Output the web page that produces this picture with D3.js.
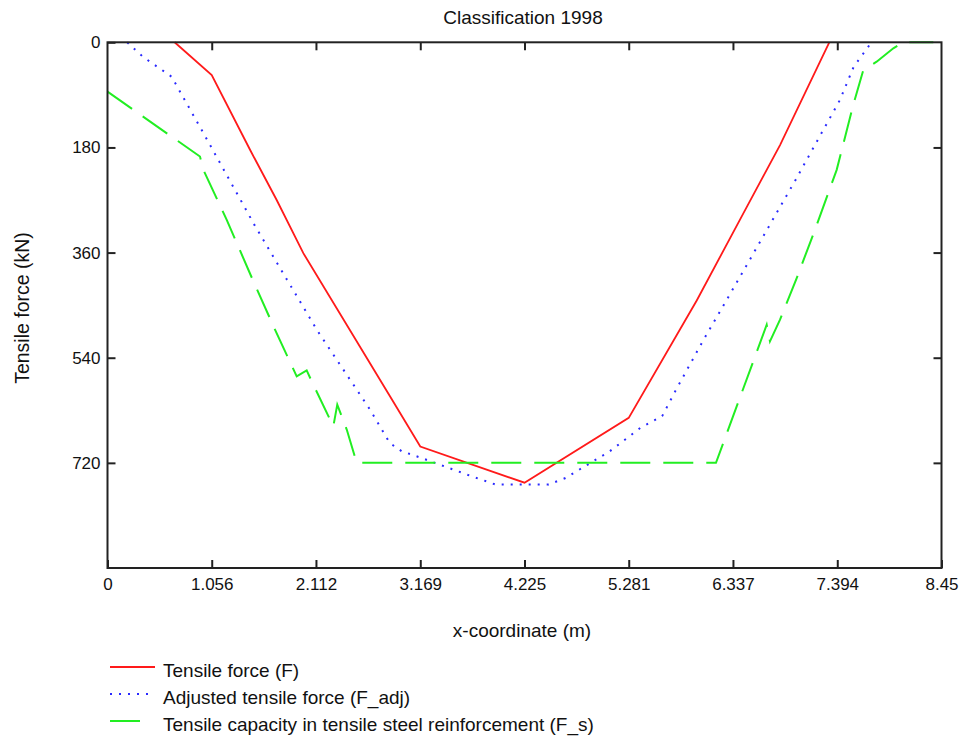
<!DOCTYPE html>
<html>
<head>
<meta charset="utf-8">
<script src="https://cdn.jsdelivr.net/npm/d3@7"></script>
<style>
  body { margin: 0; background: #fff; }
  text { font-family: "Liberation Sans", Arial, sans-serif; fill: #111; }
</style>
</head>
<body>
<div class="chart"></div>
<script>
// Data
const xTicks = [0, 1.056, 2.112, 3.169, 4.225, 5.281, 6.337, 7.394, 8.45]
const xTickLabels = ['0', '1.056', '2.112', '3.169', '4.225', '5.281', '6.337', '7.394', '8.45']
const yTicks = [0, 180, 360, 540, 720]

// Tensile force (F)
const forceX = [0.68, 1.056, 1.444, 1.714, 1.984, 2.862, 3.169, 4.225, 5.281, 5.970, 6.426, 6.814, 7.313]
const forceY = [0, 56, 184, 270, 361, 606, 692, 754, 643, 442, 298, 176, 0]

// Adjusted tensile force (F_adj)
const adjX = [0.20, 0.36, 0.65, 0.99, 1.49, 2.12, 2.66, 2.86, 2.98, 3.17, 3.69, 3.93, 4.47, 4.64, 5.09, 5.40, 5.62, 5.75, 6.02, 6.41, 6.97, 7.42, 7.56, 7.74]
const adjY = [0, 25, 59, 161, 313, 492, 629, 686, 700, 711, 743, 757, 757, 746, 700, 660, 640, 598, 515, 401, 236, 99, 42, 0]

// Tensile capacity in tensile steel reinforcement (F_s)
const capX = [0, 0.937, 0.971, 1.208, 1.471, 1.697, 1.917, 2.018, 2.069, 2.288, 2.328, 2.424, 2.525, 6.165, 6.307, 6.543, 6.679, 6.712, 6.814, 6.983, 7.168, 7.388, 7.556, 7.658, 7.793, 7.962, 8.063, 8.367]
const capY = [84.5, 195.6, 218.4, 303.9, 406.5, 492, 571.9, 561.6, 580.4, 657.4, 620.3, 663, 720, 720, 654.5, 546.2, 483.5, 512, 474.9, 403.6, 321, 218.4, 107.2, 47.4, 33.2, 10.3, 0, 0]

const seriesNames = ['Tensile force (F)', 'Adjusted tensile force (F_adj)', 'Tensile capacity in tensile steel reinforcement (F_s)']

// Dimensions
const dimensions = { width: 967, height: 738, left: 107.5, right: 941.5, top: 42.3, bottom: 568 }

const svg = d3.select('.chart')
    .append('svg')
    .attr('width', dimensions.width)
    .attr('height', dimensions.height)

const xScale = d3.scaleLinear().domain([0, 8.45]).range([dimensions.left, dimensions.right])
const yScale = d3.scaleLinear().domain([0, 900]).range([dimensions.top, dimensions.bottom])

const series = [
    { name: seriesNames[0], xs: forceX, ys: forceY, color: '#ff1a1a', width: 1.8, dash: null },
    { name: seriesNames[1], xs: adjX, ys: adjY, color: '#2a2aff', width: 2, dash: '2,7' },
    { name: seriesNames[2], xs: capX, ys: capY, color: '#22ee22', width: 2, dash: '30,13' }
]

const line = d3.line()
    .x(d => xScale(d[0]))
    .y(d => yScale(d[1]))

series.forEach(s => {
    svg.append('path')
        .datum(d3.zip(s.xs, s.ys))
        .attr('d', line)
        .attr('fill', 'none')
        .attr('stroke', s.color)
        .attr('stroke-width', s.width)
        .attr('stroke-dasharray', s.dash)
})

// Axes: ticks point inward on all four sides
const axisStyle = g => {
    g.select('.domain').remove()
    g.selectAll('.tick line').attr('stroke', '#222').attr('stroke-width', 2)
    g.selectAll('.tick text').style('font-size', '17px').attr('fill', '#111')
}

svg.append('g')
    .attr('transform', `translate(0, ${dimensions.bottom})`)
    .call(d3.axisBottom(xScale).tickValues(xTicks).tickFormat((d, i) => xTickLabels[i])
        .tickSizeInner(-8).tickSizeOuter(0).tickPadding(10))
    .call(axisStyle)

svg.append('g')
    .attr('transform', `translate(0, ${dimensions.top})`)
    .call(d3.axisTop(xScale).tickValues(xTicks.slice(1, -1)).tickFormat('')
        .tickSizeInner(-8).tickSizeOuter(0))
    .call(axisStyle)

svg.append('g')
    .attr('transform', `translate(${dimensions.left}, 0)`)
    .call(d3.axisLeft(yScale).tickValues(yTicks).tickFormat(d3.format('d'))
        .tickSizeInner(-8).tickSizeOuter(0).tickPadding(7))
    .call(axisStyle)

svg.append('g')
    .attr('transform', `translate(${dimensions.right}, 0)`)
    .call(d3.axisRight(yScale).tickValues(yTicks.slice(1)).tickFormat('')
        .tickSizeInner(-8).tickSizeOuter(0))
    .call(axisStyle)

// frame
svg.append('rect')
    .attr('x', dimensions.left)
    .attr('y', dimensions.top)
    .attr('width', dimensions.right - dimensions.left)
    .attr('height', dimensions.bottom - dimensions.top)
    .attr('fill', 'none')
    .attr('stroke', '#222')
    .attr('stroke-width', 2)

// Titles
svg.append('text')
    .attr('x', 523).attr('y', 24)
    .attr('text-anchor', 'middle')
    .style('font-size', '19px')
    .text('Classification 1998')

svg.append('text')
    .attr('x', 522).attr('y', 637)
    .attr('text-anchor', 'middle')
    .style('font-size', '19px')
    .text('x-coordinate (m)')

svg.append('text')
    .attr('transform', 'translate(29, 308) rotate(-90)')
    .attr('text-anchor', 'middle')
    .style('font-size', '19.5px')
    .text('Tensile force (kN)')

// Legend
const legendLen = [45, 40, 30]
const legend = svg.append('g')
    .selectAll('g')
    .data(series)
    .join('g')
    .attr('transform', (d, i) => `translate(110, ${667 + i * 27})`)

legend.append('line')
    .attr('x1', 0)
    .attr('x2', (d, i) => legendLen[i])
    .attr('stroke', d => d.color)
    .attr('stroke-width', d => d.width)
    .attr('stroke-dasharray', d => d.dash)

legend.append('text')
    .attr('x', 53)
    .attr('y', 10)
    .style('font-size', '19px')
    .text(d => d.name)
</script>
</body>
</html>
